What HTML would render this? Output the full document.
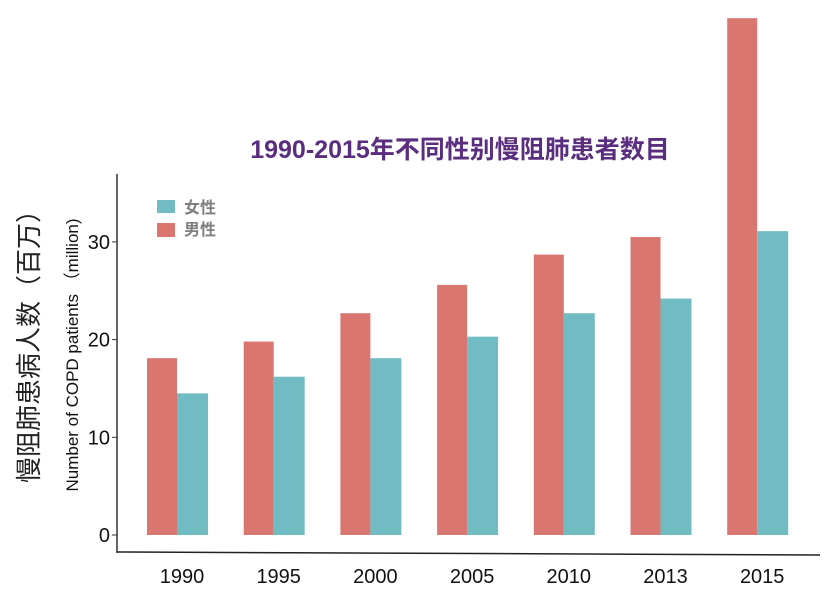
<!DOCTYPE html>
<html><head><meta charset="utf-8"><style>
body{margin:0;background:#fff;}
svg{display:block;font-family:"Liberation Sans","Noto Sans CJK SC",sans-serif;}
</style></head><body>
<svg id="chart" width="835" height="594" viewBox="0 0 835 594">
<text x="460" y="158" text-anchor="middle" font-size="25" font-weight="bold" fill="#5b2d7e">1990-2015年不同性别慢阻肺患者数目</text>
<text transform="translate(38,340) rotate(-90)" text-anchor="middle" font-size="26" fill="#222">慢阻肺患病人数（百万）</text>
<text transform="translate(78,355) rotate(-90)" text-anchor="middle" font-size="17" fill="#111">Number of COPD patients （million)</text>
<line x1="117" y1="174" x2="117" y2="553" stroke="#333" stroke-width="1.5"/>
<line x1="117" y1="552" x2="820" y2="555" stroke="#222" stroke-width="1.5"/>
<g id="yt"></g><g id="bars"></g><g id="xt"></g>
<g>
<rect x="157" y="200" width="18" height="13" fill="#71bcc2"/>
<text x="184" y="213" font-size="16" font-weight="bold" fill="#7f7f7f">女性</text>
<rect x="157" y="223" width="18" height="14" fill="#d9766f"/>
<text x="184" y="235" font-size="16" font-weight="bold" fill="#7f7f7f">男性</text>
</g>
</svg>
<script>
const categories=["1990","1995","2000","2005","2010","2013","2015"];
const maleValues=[18.1,19.8,22.7,25.6,28.7,30.5,52.9];
const femaleValues=[14.5,16.2,18.1,20.3,22.7,24.2,31.1];
const yTicks=[0,10,20,30];
const NS="http://www.w3.org/2000/svg";
const y0=535, pxPer=9.77;
function y(v){return y0-v*pxPer;}
function xc(i){return 177+i*96.7;}
const bw=30;
function mk(tag,attrs,parent){const e=document.createElementNS(NS,tag);for(const k in attrs)e.setAttribute(k,attrs[k]);document.getElementById(parent).appendChild(e);return e;}
yTicks.forEach(t=>{
 const l=mk('line',{x1:112,x2:117,y1:y(t),y2:y(t),stroke:'#333'},'yt');
 
 
 const tx=mk('text',{x:110,y:y(t)+7,'text-anchor':'end','font-size':20,fill:'#111'},'yt');
 
 
 tx.textContent=t;
});
categories.forEach((c,i)=>{
 const m=mk('rect',{x:xc(i)-bw,y:y(maleValues[i]),width:bw,height:maleValues[i]*pxPer,fill:'#d9766f'},'bars');
 
 
 const f=mk('rect',{x:xc(i),y:y(femaleValues[i]),width:bw+1,height:femaleValues[i]*pxPer,fill:'#71bcc2'},'bars');
 
 
 const t=mk('text',{x:xc(i)+5,y:583,'text-anchor':'middle','font-size':20,fill:'#111'},'xt');
 
 
 t.textContent=c;
});
</script>
</body></html>
